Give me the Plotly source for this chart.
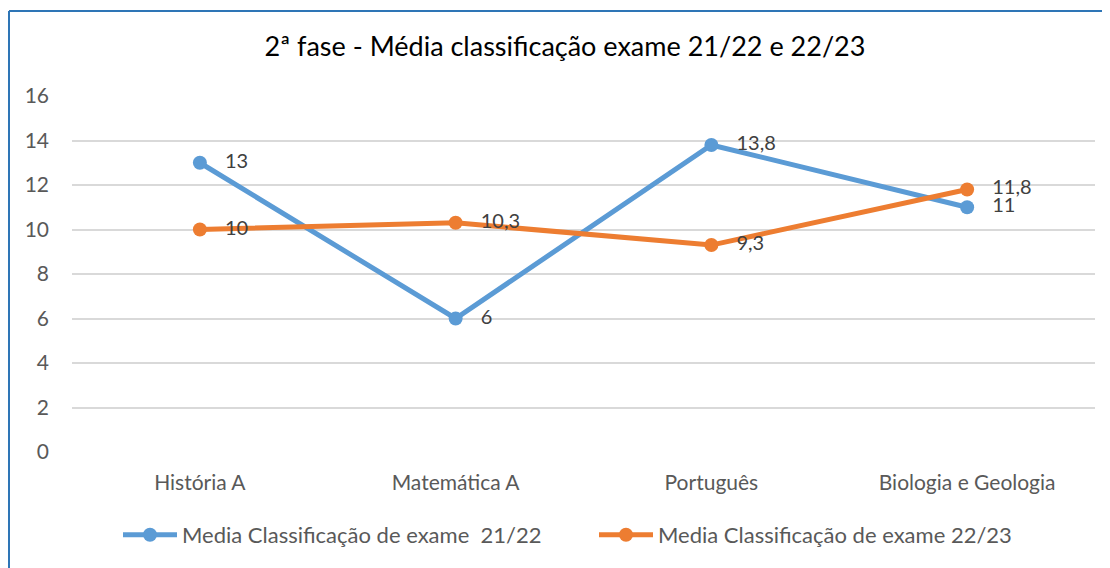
import plotly.graph_objects as go

categories = ["História A", "Matemática A", "Português", "Biologia e Geologia"]
serie_2122 = [13, 6, 13.8, 11]
serie_2223 = [10, 10.3, 9.3, 11.8]
labels_2122 = ["13", "6", "13,8", "11"]
labels_2223 = ["10", "10,3", "9,3", "11,8"]
name_2122 = "Media Classificação de exame  21/22"
name_2223 = "Media Classificação de exame 22/23"
title = "2ª fase - Média classificação exame 21/22 e 22/23"
y_ticks = [0, 2, 4, 6, 8, 10, 12, 14, 16]

# page has 8px body margin; work in figure coordinates
W, H = 1102, 560
L, R, T, B = 64, 15, 88, 116
pw, ph = W - L - R, H - T - B

def px_x(x):
    return (x - L) / pw

def px_y(y):
    return (H - B - y) / ph

FONT = "Lato"
BLUE = "#5B9BD5"
ORANGE = "#ED7D31"
PAD = "   "

fig = go.Figure()
fig.add_trace(go.Scatter(
    x=categories, y=serie_2122, name=name_2122, mode="lines+markers+text",
    line=dict(color=BLUE, width=5), marker=dict(color=BLUE, size=14),
    text=[PAD + t for t in labels_2122], textposition="middle right",
    textfont=dict(family=FONT, size=20, color="#404040"), cliponaxis=False,
    legend="legend",
))
fig.add_trace(go.Scatter(
    x=categories, y=serie_2223, name=name_2223, mode="lines+markers+text",
    line=dict(color=ORANGE, width=5), marker=dict(color=ORANGE, size=14),
    text=[PAD + t for t in labels_2223], textposition="middle right",
    textfont=dict(family=FONT, size=20, color="#404040"), cliponaxis=False,
    legend="legend2",
))

legend_common = dict(orientation="h", xanchor="left", y=px_y(527), yanchor="middle",
                     font=dict(size=22, color="#595959"), itemwidth=54,
                     bgcolor="rgba(0,0,0,0)")

fig.update_layout(
    width=W, height=H,
    margin=dict(l=L, r=R, t=T, b=B, autoexpand=False),
    paper_bgcolor="white", plot_bgcolor="white",
    font=dict(family=FONT, color="#595959"),
    title=dict(text=title, x=557 / W, xanchor="center", y=1 - 39 / H, yanchor="middle",
               font=dict(family=FONT, size=27, color="#000000")),
    xaxis=dict(range=[-0.5, 3.5], showgrid=False, showline=False, zeroline=False, ticks="",
               tickfont=dict(size=21, color="#595959"), ticklabelstandoff=16),
    yaxis=dict(range=[0, 16], tickvals=y_ticks, showgrid=True, gridcolor="#D9D9D9", gridwidth=2,
               zeroline=False, showline=False, ticks="",
               tickfont=dict(size=21, color="#595959"), ticklabelstandoff=22),
    legend=dict(x=px_x(110), **legend_common),
    legend2=dict(x=px_x(586), **legend_common),
    showlegend=True,
)

# chart border (left and top visible)
bx, by = px_x(1), px_y(3)
fig.add_shape(type="line", xref="paper", yref="paper", x0=bx, x1=bx, y0=by, y1=px_y(600),
              line=dict(color="#2E75B6", width=2))
fig.add_shape(type="line", xref="paper", yref="paper", x0=bx, x1=px_x(1200), y0=by, y1=by,
              line=dict(color="#2E75B6", width=2))

fig.write_html("out.html")
